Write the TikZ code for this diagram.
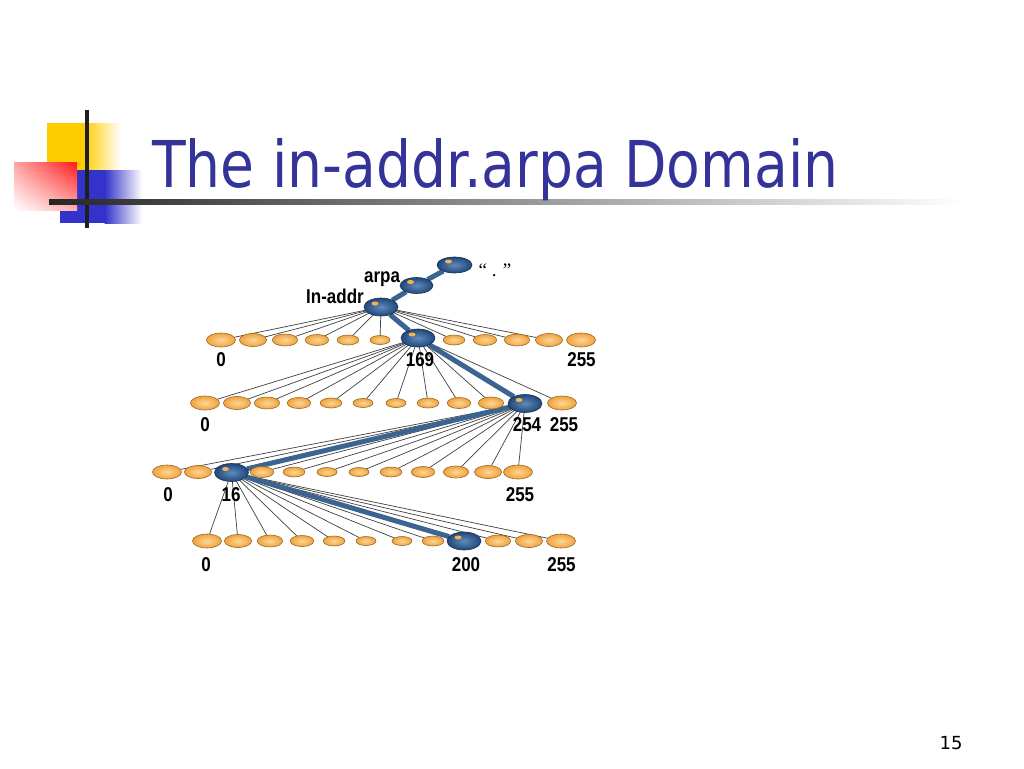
\documentclass[tikz,border=0pt]{standalone}
\usepackage{fontspec}
\usepackage{graphicx}
\usetikzlibrary{shapes.geometric,backgrounds,shadings}
\pgfdeclarelayer{bottom}
\pgfsetlayers{bottom,background,main}
\newfontfamily\titlefont{DejaVu Sans}
\newfontfamily\labfont{Liberation Sans}
\newfontfamily\qfont{Liberation Serif}
\definecolor{titleblue}{HTML}{333399}
\definecolor{logoyellow}{HTML}{FFCC00}
\definecolor{logored}{HTML}{FF1A1A}
\definecolor{logoblue}{HTML}{3333CC}
\definecolor{orbin}{HTML}{FDD796}
\definecolor{orbout}{HTML}{F0A23E}
\definecolor{orbline}{HTML}{9C6A24}
\definecolor{borbin}{HTML}{5F8BBB}
\definecolor{borbout}{HTML}{21477A}
\definecolor{borbline}{HTML}{1A3352}
\definecolor{hlc}{HTML}{F5B350}
\definecolor{trunkc}{HTML}{3C6491}
\definecolor{twigc}{HTML}{404040}
\newcommand\lbl[1]{\scalebox{0.85}[1]{#1}}
\begin{document}
\begin{tikzpicture}[x=1pt,y=-1pt,
  orb/.style={ellipse, inner sep=0pt, outer sep=0pt, draw=orbline, line width=0.6pt,
    shading=radial, inner color=orbin, outer color=orbout},
  borb/.style={ellipse, inner sep=0pt, outer sep=0pt, minimum width=34pt, minimum height=18pt,
    draw=borbline, line width=0.6pt, shading=radial, inner color=borbin, outer color=borbout,
    path picture={\fill[hlc] ([xshift=-6pt,yshift=3.5pt]path picture bounding box.center) ellipse (3.5pt and 2pt);}},
  twig/.style={draw=twigc, line width=0.7pt},
  trunk/.style={draw=trunkc, line width=5pt},
  lab/.style={font=\labfont\bfseries\fontsize{20}{21}\selectfont, inner sep=0pt, text=black},
  qlab/.style={font=\qfont\fontsize{19}{20}\selectfont, inner sep=0pt, text=black}
]
\useasboundingbox (0,0) rectangle (1024,768);
\begin{pgfonlayer}{bottom}
\fill[white] (0,0) rectangle (1024,768);
\end{pgfonlayer}

% logo
\fill[logoyellow] (47,123) rectangle (84,172);
\shade[left color=logoyellow, right color=white] (83.5,123) rectangle (121,172);
\fill[logoblue] (60,170) rectangle (105,223);
\shade[left color=logoblue, right color=white] (104.5,170) rectangle (142,223);
\shade[upper right=logored, upper left=logored!40!white, lower right=logored!35!white, lower left=white] (14,162) rectangle (77,210);
\draw[line width=4pt, black!88] (87,110) -- (87,228);
\shade[left color=black!85, right color=white] (49,199) rectangle (965,204);

% title
\node[anchor=base west, inner sep=0pt, text=titleblue, font=\titlefont\fontsize{64.5}{70}\selectfont] (title) at (152,187) {\scalebox{0.855}[1]{The in-addr.arpa Domain}};

% page number
\node[inner sep=0pt, font=\titlefont\fontsize{18}{20}\selectfont] (page) at (951,743) {15};

% chain
\node[borb, minimum width=35pt, minimum height=16pt] (root) at (454.5,265) {};
\node[borb, minimum width=33pt, minimum height=16pt] (arpa) at (416.5,285.5) {};
\node[borb] (inaddr) at (381,307) {};

% row 1
\foreach \i/\x in {1/221,2/253,3/285,4/317,5/348,6/380,8/454,9/485,10/517,11/549,12/581}{
  \pgfmathsetmacro\w{20+9*(abs(\i-6.5)-0.5)/5}
  \pgfmathsetmacro\h{9+5*(abs(\i-6.5)-0.5)/5}
  \node[orb, minimum width=\w pt, minimum height=\h pt] (a\i) at (\x,340) {};
}
\node[borb] (a7) at (418,338) {};
% row 2
\foreach \i/\x in {1/205,2/237,3/267,4/299,5/331,6/363,7/396,8/428,9/459,10/491,12/562}{
  \pgfmathsetmacro\w{20+9*(abs(\i-6.5)-0.5)/5}
  \pgfmathsetmacro\h{9+5*(abs(\i-6.5)-0.5)/5}
  \node[orb, minimum width=\w pt, minimum height=\h pt] (b\i) at (\x,403) {};
}
\node[borb] (b11) at (525,403.5) {};
% row 3
\foreach \i/\x in {1/167,2/198,4/262,5/294,6/327,7/359,8/391,9/423,10/456,11/488,12/518}{
  \pgfmathsetmacro\w{20+9*(abs(\i-6.5)-0.5)/5}
  \pgfmathsetmacro\h{9+5*(abs(\i-6.5)-0.5)/5}
  \node[orb, minimum width=\w pt, minimum height=\h pt] (c\i) at (\x,472) {};
}
\node[borb] (c3) at (231.5,472.5) {};
% row 4
\foreach \i/\x in {1/207,2/238,3/270,4/302,5/334,6/366,7/402,8/433,10/498,11/529,12/561}{
  \pgfmathsetmacro\w{20+9*(abs(\i-6.5)-0.5)/5}
  \pgfmathsetmacro\h{9+5*(abs(\i-6.5)-0.5)/5}
  \node[orb, minimum width=\w pt, minimum height=\h pt] (d\i) at (\x,541) {};
}
\node[borb] (d9) at (464,541) {};

% connectors
\begin{pgfonlayer}{background}
\foreach \i in {1,2,3,4,5,6,8,9,10,11} \draw[twig] (inaddr) -- (a\i);
\foreach \i in {1,2,3,4,5,6,7,8,9,10,12} \draw[twig] (a7) -- (b\i);
\foreach \i in {1,2,4,5,6,7,8,9,10,11,12} \draw[twig] (b11) -- (c\i);
\foreach \i in {1,2,3,4,5,6,7,8,10,11,12} \draw[twig] (c3) -- (d\i);
\draw[trunk] (root) -- (arpa) -- (inaddr) -- (a7) -- (b11) -- (c3) -- (d9);
\end{pgfonlayer}

% labels
\node[lab, anchor=base] (larpa) at (382,282) {\lbl{arpa}};
\node[lab, anchor=base] (linaddr) at (335,303) {\lbl{In-addr}};
\node[qlab, anchor=base] (lroot) at (495,276) {“ . ”};

\node[lab] (l10) at (221,360) {\lbl{0}};
\node[lab] (l1169) at (420,360) {\lbl{169}};
\node[lab] (l1255) at (581.5,360) {\lbl{255}};
\node[lab] (l20) at (205,425) {\lbl{0}};
\node[lab] (l2254) at (527,425) {\lbl{254}};
\node[lab] (l2255) at (564,425) {\lbl{255}};
\node[lab] (l30) at (168,495) {\lbl{0}};
\node[lab] (l316) at (231,495) {\lbl{16}};
\node[lab] (l3255) at (520,495) {\lbl{255}};
\node[lab] (l40) at (206,565) {\lbl{0}};
\node[lab] (l4200) at (466,565) {\lbl{200}};
\node[lab] (l4255) at (561.5,565) {\lbl{255}};
\end{tikzpicture}
\end{document}
